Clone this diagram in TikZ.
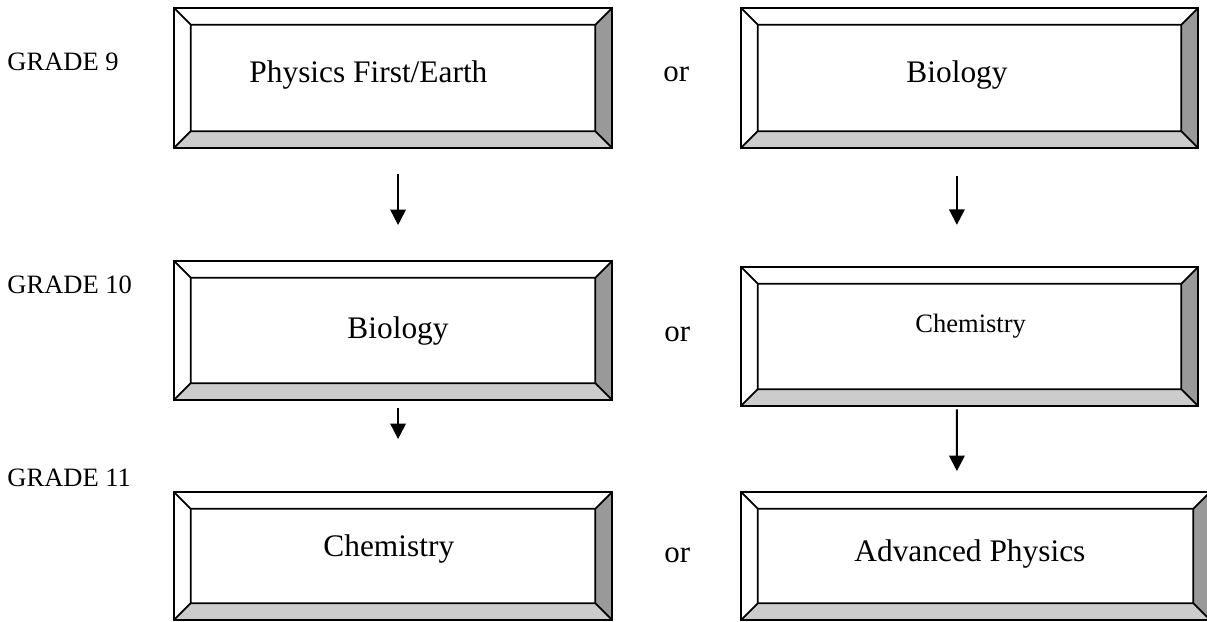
\documentclass[tikz,border=0pt]{standalone}
\usepackage{fontspec}
\setmainfont{Liberation Serif}
\usetikzlibrary{arrows.meta}

\definecolor{bevellight}{gray}{0.8}
\definecolor{beveldark}{gray}{0.6}

\begin{document}
\begin{tikzpicture}[x=0.4525pt,y=-0.4525pt,>={Triangle[length=7pt,width=7pt]},
        bevel/.style={rectangle,draw,line width=0.95pt,fill=white,inner sep=0pt,
          path picture={
            \coordinate (ne) at (path picture bounding box.north east);
            \coordinate (sw) at (path picture bounding box.south west);
            \coordinate (nw) at (sw |- ne);
            \coordinate (se) at (sw -| ne);
            \coordinate (ine) at ([shift={(-7.6pt,-7.6pt)}]ne);
            \coordinate (isw) at ([shift={(7.6pt,7.6pt)}]sw);
            \coordinate (inw) at (isw |- ine);
            \coordinate (ise) at (isw -| ine);
            \fill[bevellight] (sw) -- (se) -- (ise) -- (isw) -- cycle;
            \fill[beveldark] (se) -- (ne) -- (ine) -- (ise) -- cycle;
            \draw[line width=0.8pt] (isw) rectangle (ine)
              (sw) -- (isw) (se) -- (ise) (ne) -- (ine) (nw) -- (inw);
          }},
        left box/.style={bevel,minimum width=198.2pt},
        right box/.style={bevel,minimum width=206.8pt},
        boxtext/.style={font=\fontsize{14.2pt}{16pt}\selectfont,anchor=base,inner sep=0pt},
        grade/.style={font=\fontsize{12pt}{14pt}\selectfont,anchor=base west,inner sep=0pt},
        ortext/.style={font=\fontsize{14pt}{16pt}\selectfont,anchor=base west,inner sep=0pt},
        arrow/.style={->,line width=0.9pt}]

    \useasboundingbox (0,0) rectangle (1207,622);

    % boxes
    \node[left box,minimum height=63.35pt] (physfirst) at (393,78) {};
    \node[right box,minimum height=63.35pt] (biology9) at (969.5,78) {};
    \node[left box,minimum height=62.9pt] (biology10) at (393,330.5) {};
    \node[right box,minimum height=62.9pt] (chem10) at (969.5,336.5) {};
    \node[left box,minimum height=57.9pt] (chem11) at (393,556) {};
    \node[bevel,minimum width=212.2pt,minimum height=57.9pt] (advphys) at (975.5,556) {};

    % box texts
    \node[boxtext,anchor=base west] (tphys) at (249,83) {Physics First/Earth};
    \node[boxtext] (tbio9) at (957,83) {Biology};
    \node[boxtext] (tbio10) at (398,339) {Biology};
    \node[boxtext,anchor=base west,font=\fontsize{12pt}{14pt}\selectfont] (tchem10) at (915,333) {Chemistry};
    \node[boxtext,anchor=base west] (tchem11) at (323,557) {Chemistry};
    \node[boxtext,anchor=base west] (tadv) at (854,562) {Advanced Physics};

    % grades and or
    \node[grade] (grade9) at (7,71) {GRADE 9};
    \node[grade] (grade10) at (7,294) {GRADE 10};
    \node[grade] (grade11) at (7,487) {GRADE 11};
    \node[ortext] (or9) at (663,82) {or};
    \node[ortext] (or10) at (664,342) {or};
    \node[ortext] (or11) at (664,563) {or};

    \path[arrow]
    ([xshift=2.3pt]physfirst.south) edge [shorten <=11.3pt,shorten >=15.8pt] ([xshift=2.3pt]biology10.north)
    ([xshift=-5.7pt]biology9.south) edge [shorten <=12.2pt,shorten >=18.6pt] ([xshift=-5.7pt]chem10.north)
    ([xshift=2.3pt]biology10.south) edge [shorten <=3.2pt,shorten >=23.5pt] ([xshift=2.3pt]chem11.north)
    ([xshift=-5.7pt]chem10.south) edge [shorten <=1pt,shorten >=9pt] ([xshift=-8.4pt]advphys.north);
\end{tikzpicture}
\end{document}
